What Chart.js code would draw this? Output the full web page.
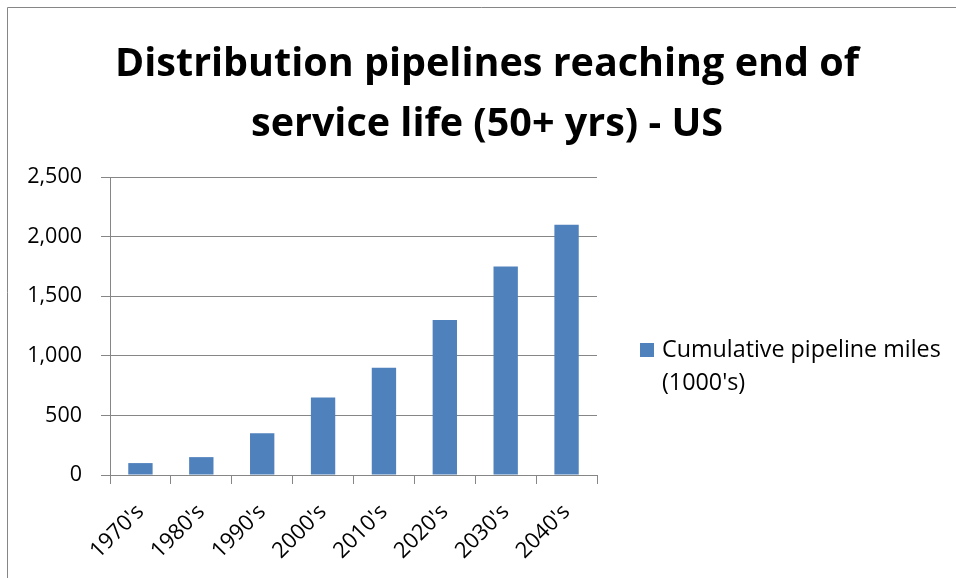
<!DOCTYPE html>
<html>
<head>
<meta charset="utf-8">
<script src="https://cdn.jsdelivr.net/npm/chart.js@4.4.0/dist/chart.umd.min.js"></script>
<style>
  html, body { margin: 0; padding: 0; background: #fff; }
</style>
</head>
<body>
<canvas id="pipeline-chart" width="956" height="578"></canvas>
<script>
var decades = ["1970's", "1980's", "1990's", "2000's", "2010's", "2020's", "2030's", "2040's"];
var pipelineMiles = [100, 150, 350, 650, 900, 1300, 1750, 2100];
var seriesLabel = ["Cumulative pipeline miles", "(1000's)"];
var titleLines = ["Distribution pipelines reaching end of", "service life (50+ yrs) - US"];
var yMax = 2500;
var yStep = 500;

var axisGray = '#868686';
var barBlue = '#4F81BD';
var fontName = '"Open Sans"';

// title, legend and the frame are drawn by hand, the bars go through the scales
var decorations = {
  id: 'decorations',
  beforeDraw: function(chart) {
    var ctx = chart.ctx;
    ctx.save();
    ctx.fillStyle = '#fff';
    ctx.fillRect(0, 0, chart.width, chart.height);
    ctx.strokeStyle = axisGray;
    ctx.lineWidth = 1;
    ctx.beginPath();
    ctx.moveTo(7.5, chart.height);
    ctx.lineTo(7.5, 7.5);
    ctx.lineTo(chart.width, 7.5);
    ctx.stroke();
    ctx.restore();
  },
  afterDraw: function(chart) {
    var ctx = chart.ctx;
    var area = chart.chartArea;
    ctx.save();
    ctx.fillStyle = '#000';
    ctx.textAlign = 'center';
    ctx.textBaseline = 'alphabetic';
    ctx.font = 'bold 39.5px ' + fontName;
    titleLines.forEach(function(line, i) {
      ctx.fillText(line, 487, 76 + i * 60);
    });

    var boxX = area.right + 43;
    var boxY = 343;
    ctx.fillStyle = chart.data.datasets[0].backgroundColor;
    ctx.fillRect(boxX, boxY, 14, 14);
    ctx.fillStyle = '#000';
    ctx.textAlign = 'left';
    ctx.font = '23.3px ' + fontName;
    seriesLabel.forEach(function(line, i) {
      ctx.fillText(line, boxX + 22, boxY + 14 + i * 33);
    });
    ctx.restore();
  }
};

var ctx = document.getElementById('pipeline-chart').getContext('2d');
var chart = new Chart(ctx, {
  type: 'bar',
  data: {
    labels: decades,
    datasets: [{
      label: seriesLabel.join(' '),
      data: pipelineMiles,
      backgroundColor: barBlue,
      barPercentage: 0.4,
      categoryPercentage: 1.0
    }]
  },
  options: {
    responsive: false,
    animation: false,
    layout: { padding: { left: 0, right: 359, top: 177, bottom: 0 } },
    plugins: {
      legend: { display: false },
      title: { display: false },
      tooltip: { enabled: false }
    },
    scales: {
      x: {
        afterFit: function(scale) { scale.height = 103; },
        grid: { drawOnChartArea: false, color: axisGray, tickLength: 9, offset: true },
        border: { color: axisGray, width: 1 },
        ticks: {
          minRotation: 45,
          maxRotation: 45,
          padding: 15,
          color: '#000',
          font: { family: fontName, size: 22 }
        }
      },
      y: {
        min: 0,
        max: yMax,
        afterFit: function(scale) { scale.width = 110; },
        grid: { color: axisGray, tickLength: 9 },
        border: { color: axisGray, width: 1 },
        ticks: {
          stepSize: yStep,
          padding: 19,
          color: '#000',
          font: { family: fontName, size: 21.5 },
          callback: function(v) { return v.toLocaleString('en-US'); }
        }
      }
    }
  },
  plugins: [decorations]
});
</script>
</body>
</html>
